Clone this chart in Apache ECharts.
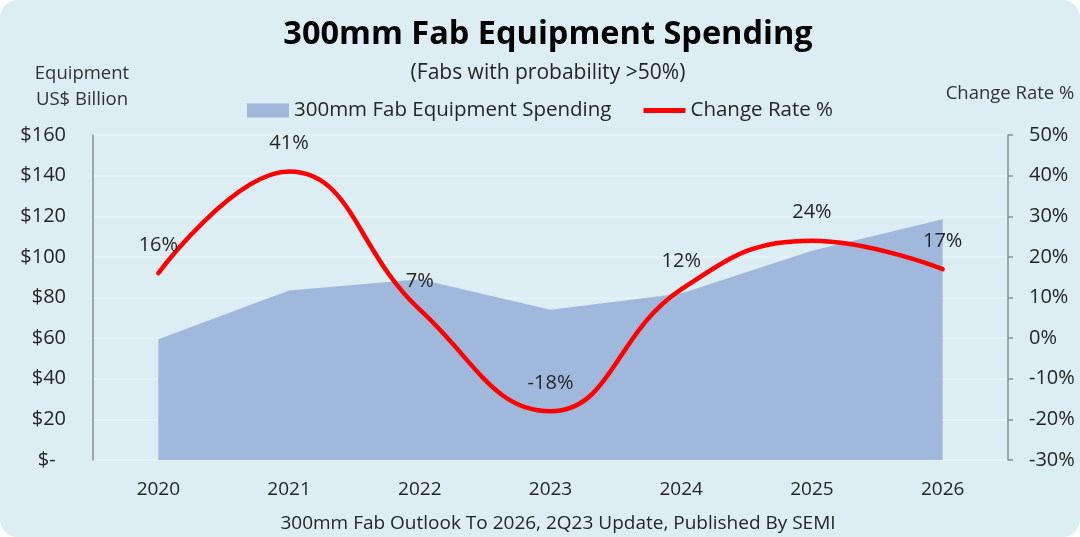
<!DOCTYPE html>
<html lang="en">
<head>
    <meta charset="UTF-8">
    <title>300mm Fab Equipment Spending</title>
    <script src="https://cdn.jsdelivr.net/npm/echarts@6/dist/echarts.min.js"></script>
    <style>
        html, body { margin: 0; padding: 0; background: #ffffff; }
        #main { width: 1080px; height: 537px; background: #dcedf3; border-radius: 18px; overflow: hidden; }
    </style>
</head>
<body>
<div id="main"></div>
<script type="text/javascript">
    // data
    var years = ['2020', '2021', '2022', '2023', '2024', '2025', '2026'];
    var spending = [59.5, 83.5, 89, 74, 82, 103, 118.5];     // US$ billion
    var changeRate = [16, 41, 7, -18, 12, 24, 17];          // %

    var FONT = 'Open Sans';
    var TXT = '#262626';

    var myChart = echarts.init(document.getElementById('main'));

    var option = {
        textStyle: { fontFamily: FONT },
        title: [
            {
                text: '300mm Fab Equipment Spending',
                left: 543, top: 13, textAlign: 'center',
                textStyle: { fontSize: 32.5, fontWeight: 'bold', color: '#000', fontFamily: FONT }
            },
            {
                text: '(Fabs with probability >50%)',
                left: 543, top: 58, textAlign: 'center',
                textStyle: { fontSize: 21, fontWeight: 'normal', color: TXT, fontFamily: FONT }
            },
            {
                text: 'Equipment\nUS$ Billion',
                left: 77, top: 56, textAlign: 'center',
                textStyle: { fontSize: 18.5, fontWeight: 'normal', color: '#333', lineHeight: 26, fontFamily: FONT }
            },
            {
                text: 'Change Rate %',
                left: 1005, top: 79, textAlign: 'center',
                textStyle: { fontSize: 18.5, fontWeight: 'normal', color: '#333', fontFamily: FONT }
            },
            {
                text: '300mm Fab Outlook To 2026, 2Q23 Update, Published By SEMI',
                left: 553, top: 509, textAlign: 'center',
                textStyle: { fontSize: 19, fontWeight: 'normal', color: TXT, fontFamily: FONT }
            }
        ],
        legend: {
            top: 95,
            left: 'center',
            itemGap: 32,
            itemWidth: 42,
            itemHeight: 14,
            textStyle: { fontSize: 20.5, color: TXT, fontFamily: FONT },
            data: [
                { name: '300mm Fab Equipment Spending', icon: 'rect' },
                { name: 'Change Rate %', icon: 'path://M0,0 L42,0 L42,5 L0,5 Z' }
            ]
        },
        grid: { left: 93, right: 72, top: 135, bottom: 77 },
        xAxis: {
            type: 'category',
            data: years,
            boundaryGap: true,
            axisLine: { show: false },
            axisTick: { show: false },
            axisLabel: { fontSize: 19, color: TXT, margin: 20 }
        },
        yAxis: [
            {
                type: 'value',
                min: 0, max: 160, interval: 20,
                axisLine: { show: true, lineStyle: { color: '#8c8c8c', width: 1.5 } },
                axisTick: { show: false },
                splitLine: { show: true, lineStyle: { color: '#e9f4f8', width: 1.5 } },
                axisLabel: {
                    fontSize: 20, color: TXT, margin: 27,
                    formatter: function (v) { return v === 0 ? '$-  ' : '$' + v; }
                }
            },
            {
                type: 'value',
                min: -30, max: 50, interval: 10,
                axisLine: { show: true, lineStyle: { color: '#8c8c8c', width: 1.5 } },
                axisTick: { show: true, length: 5, lineStyle: { color: '#8c8c8c', width: 1.5 } },
                splitLine: { show: false },
                axisLabel: {
                    fontSize: 20, color: TXT, margin: 21,
                    formatter: '{value}%'
                }
            }
        ],
        series: [
            {
                name: '300mm Fab Equipment Spending',
                type: 'line',
                data: spending,
                symbol: 'none',
                itemStyle: { color: '#9fb8dc' },
                lineStyle: { width: 0, color: '#9fb8dc' },
                areaStyle: { color: '#9fb8dc', opacity: 1 },
                z: 1
            },
            {
                name: 'Change Rate %',
                type: 'line',
                yAxisIndex: 1,
                data: changeRate,
                smooth: 0.45,
                symbol: 'circle',
                symbolSize: 0.1,
                itemStyle: { color: '#ff0000' },
                lineStyle: { width: 4.5, color: '#ff0000', cap: 'round' },
                label: {
                    show: true,
                    position: 'top',
                    distance: 18,
                    formatter: '{c}%',
                    fontSize: 20,
                    color: TXT,
                    fontFamily: FONT
                },
                z: 3
            }
        ]
    };

    myChart.setOption(option);
</script>
</body>
</html>
